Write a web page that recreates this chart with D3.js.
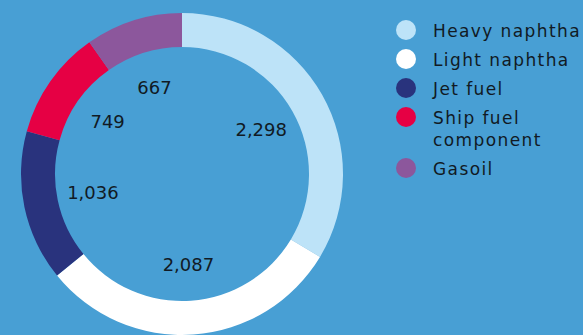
<!DOCTYPE html>
<html><head><meta charset="utf-8">
<script src="https://cdn.jsdelivr.net/npm/d3@7"></script>
<style>
html,body{margin:0;padding:0;background:#489fd4;}
svg{display:block;}
text{font-family:"DejaVu Sans",sans-serif;fill:#111a24;}
</style></head>
<body>
<svg id="chart" width="583" height="335"></svg>
<script>
const categories = ["Heavy naphtha", "Light naphtha", "Jet fuel", "Ship fuel component", "Gasoil"];
const legendLines = [["Heavy naphtha"], ["Light naphtha"], ["Jet fuel"], ["Ship fuel", "component"], ["Gasoil"]];
const values = [2298, 2087, 1036, 749, 667];
const colors = ["#bde3f8", "#ffffff", "#29337d", "#e60044", "#8c579c"];

const svg = d3.select("#chart");
const W = 583, H = 335;
svg.append("rect").attr("width", W).attr("height", H).attr("fill", "#489fd4");

const cx = 182, cy = 174, rOuter = 161, rInner = 127, rLabel = 91;
const data = categories.map((c, i) => ({cat: c, value: values[i], color: colors[i]}));
const pie = d3.pie().value(d => d.value).sort(null);
const arc = d3.arc().innerRadius(rInner).outerRadius(rOuter);
const labelArc = d3.arc().innerRadius(rLabel).outerRadius(rLabel);
const fmt = d3.format(",");

const g = svg.append("g").attr("transform", `translate(${cx},${cy})`);
const arcs = pie(data);
g.selectAll("path").data(arcs).join("path")
  .attr("d", arc).attr("fill", d => d.data.color);
g.selectAll("text.val").data(arcs).join("text")
  .attr("class", "val")
  .attr("transform", d => `translate(${labelArc.centroid(d)})`)
  .attr("text-anchor", "middle")
  .attr("dy", "0.36em")
  .style("font-size", "18px")
  .text(d => fmt(d.data.value));

// legend
const lg = svg.append("g").attr("transform", "translate(406,30)");
let y = 0;
data.forEach((d, i) => {
  const row = lg.append("g").attr("transform", `translate(0,${y})`);
  row.append("circle").attr("r", 10).attr("fill", d.color);
  const t = row.append("text").attr("x", 27).attr("y", 6.5)
    .style("font-size", "17px").style("letter-spacing", "1.4px");
  legendLines[i].forEach((ln, j) => {
    t.append("tspan").attr("x", 27).attr("dy", j === 0 ? 0 : 22).text(ln);
  });
  y += 29 + 22 * (legendLines[i].length - 1);
});
</script>
</body></html>
